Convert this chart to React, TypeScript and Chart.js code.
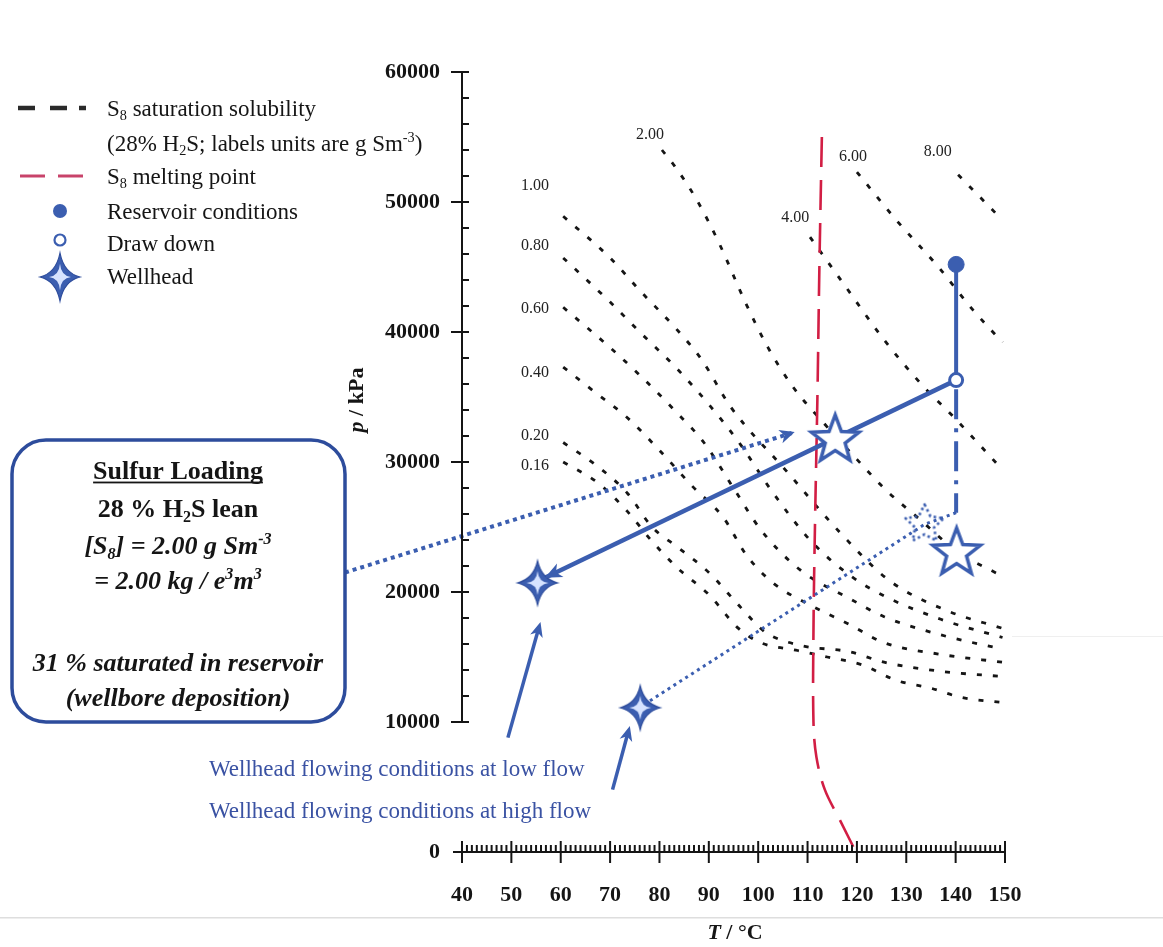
import React, { useEffect, useRef } from 'react';
import { Chart, registerables } from 'chart.js';

Chart.register(...registerables);

const W = 1163;
const H = 947;
const SERIF = '"Liberation Serif", "Times New Roman", Times, serif';
const BLUE = '#3b5eb0';
const DARK_BLUE = '#2d4c9c';
const TEXT_BLUE = '#3a52a3';
const RED = '#d21e44';
const BLACK = '#151515';

// ---- axes ----
const xMin = 40;
const xMax = 150;
const xStep = 10;
const yMin = 0;
const yMax = 60000;
const yStep = 10000;

// ---- S8 saturation solubility curves (T in °C, p in kPa) ----
const solLabels = ['0.16', '0.20', '0.40', '0.60', '0.80', '1.00', '2.00', '4.00', '6.00', '8.00'];

const sol016T = [60.5, 67.5, 73.5, 78.5, 83.5, 90, 96, 100.5, 108, 114, 121, 128, 135, 141, 149.5];
const sol016P = [30000, 28400, 26200, 23900, 21900, 19800, 17200, 16100, 15500, 15000, 14400, 13200, 12600, 11900, 11500];

const sol020T = [60.5, 67, 73.5, 78.5, 83.5, 90, 96.5, 101.5, 108.5, 118.5, 125.5, 137, 149.5];
const sol020P = [31500, 29800, 27600, 25000, 23500, 21500, 18800, 16900, 15900, 15400, 14600, 13900, 13500];

const sol040T = [60.5, 66.5, 73.5, 80, 86.5, 93, 97.5, 103, 110.5, 118.5, 125.5, 137, 149.5];
const sol040P = [37300, 35500, 33400, 30900, 28200, 25700, 22900, 20700, 19000, 17500, 16100, 15200, 14600];

const sol060T = [60.5, 70, 76.5, 83.5, 89, 95, 100.5, 108.5, 118.5, 125.5, 137, 149.5];
const sol060P = [41900, 38800, 36500, 33800, 31500, 28000, 24800, 21700, 19500, 18100, 16700, 15600];

const sol080T = [60.5, 70, 76, 83.5, 90.5, 96.5, 102.5, 110.5, 118.5, 125.5, 137, 149.5];
const sol080P = [45700, 42300, 40000, 37200, 34200, 31300, 27900, 24000, 21300, 19700, 17900, 16500];

const sol100T = [60.5, 70, 76, 83.5, 88.5, 94.5, 105.5, 117, 126.5, 138, 149.5];
const sol100P = [48900, 45700, 43200, 40200, 37900, 34200, 29400, 24400, 20900, 18600, 17200];

const sol200T = [80.5, 83, 87.5, 92, 97.5, 102, 107, 113.5, 120, 126, 133, 140, 149.5];
const sol200P = [54000, 52800, 50200, 46900, 42200, 38800, 35800, 32900, 30200, 27800, 25500, 23200, 21200];

const sol400T = [110.5, 117.5, 125.5, 133.5, 139.5, 149.5];
const sol400P = [47300, 43600, 39400, 35800, 33500, 29400];

const sol600T = [120, 128, 136.5, 143.5, 149.5];
const sol600P = [52300, 48600, 45000, 41700, 39200];

const sol800T = [140.5, 149.5];
const sol800P = [52100, 48600];

// label anchors for the solubility curves (same order as solLabels)
const solLabelT = [54.8, 54.8, 54.8, 54.8, 54.8, 54.8, 78.1, 107.5, 119.2, 136.4];
const solLabelP = [29700, 32000, 36850, 41770, 46620, 51230, 55150, 48770, 53460, 53850];

// ---- S8 melting point ----
const meltT = [112.9, 112.4, 112.0, 111.5, 111.2, 111.2, 111.8, 113.5, 116.5, 119.8];
const meltP = [55000, 45000, 35000, 25000, 17000, 10000, 7300, 4800, 2500, 0];

// ---- well conditions ----
const reservoirT = [140.1];
const reservoirP = [45200];
const drawDownT = [140.1];
const drawDownP = [36300];
const wellheadStarT = [115.6, 140.2];
const wellheadStarP = [31700, 23000];
const wellheadSparkT = [55.3, 76.1];
const wellheadSparkP = [20700, 11100];
const dottedStarT = [133.7];
const dottedStarP = [25200];

// paths
const resToDrawT = [140.1, 140.1];
const resToDrawP = [45200, 36300];
const lowFlowPathT = [140.1, 56.8];
const lowFlowPathP = [36300, 21100];
const drawDownDashT = [140.1, 140.1];
const drawDownDashP = [35600, 26100];
const highFlowPathT = [140.1, 133.7, 77.7];
const highFlowPathP = [26100, 25200, 11540];
const boxArrowT = [16.3, 107.4];
const boxArrowP = [21500, 32300];

// arrows from the text notes to the wellhead points [fromT, fromP, toT, toP]
const lowNoteArrow = [49.3, 8800, 55.9, 17700];
const highNoteArrow = [70.5, 4800, 74.0, 9700];

const zip = (T: number[], P: number[]) => T.map((t, i) => ({ x: t, y: P[i] }));

type Seg = { t: string; sub?: boolean; sup?: boolean; italic?: boolean };
type RichStyle = { weight?: string; italic?: boolean; color: string; align: 'left' | 'center'; underline?: boolean };

function drawRich(ctx: CanvasRenderingContext2D, segs: Seg[], x: number, y: number, size: number, st: RichStyle) {
  const fontOf = (s: Seg, sz: number) =>
    `${st.italic || s.italic ? 'italic ' : ''}${st.weight || 'normal'} ${sz}px ${SERIF}`;
  const sizes = segs.map((s) => (s.sub || s.sup ? size * 0.62 : size));
  const widths: number[] = [];
  let total = 0;
  segs.forEach((s, i) => {
    ctx.font = fontOf(s, sizes[i]);
    const w = ctx.measureText(s.t).width;
    widths.push(w);
    total += w;
  });
  const start = st.align === 'center' ? x - total / 2 : x;
  let cx = start;
  const base = y + size * 0.33;
  ctx.fillStyle = st.color;
  ctx.textAlign = 'left';
  ctx.textBaseline = 'alphabetic';
  segs.forEach((s, i) => {
    ctx.font = fontOf(s, sizes[i]);
    const dy = s.sub ? size * 0.2 : s.sup ? -size * 0.38 : 0;
    ctx.fillText(s.t, cx, base + dy);
    cx += widths[i];
  });
  if (st.underline) {
    ctx.fillRect(start, base + 3, total, 1.8);
  }
  return total;
}

function sparklePath(ctx: CanvasRenderingContext2D, cx: number, cy: number, rx: number, ry: number, k: number) {
  ctx.beginPath();
  ctx.moveTo(cx, cy - ry);
  ctx.quadraticCurveTo(cx + k, cy - k, cx + rx, cy);
  ctx.quadraticCurveTo(cx + k, cy + k, cx, cy + ry);
  ctx.quadraticCurveTo(cx - k, cy + k, cx - rx, cy);
  ctx.quadraticCurveTo(cx - k, cy - k, cx, cy - ry);
  ctx.closePath();
}

function drawSparkle(ctx: CanvasRenderingContext2D, cx: number, cy: number, rx: number, ry: number) {
  sparklePath(ctx, cx, cy, rx, ry, rx * 0.2);
  ctx.fillStyle = BLUE;
  ctx.fill();
  ctx.strokeStyle = DARK_BLUE;
  ctx.lineWidth = 1.2;
  ctx.stroke();
  sparklePath(ctx, cx, cy, rx * 0.55, ry * 0.55, rx * 0.05);
  ctx.fillStyle = '#d6e3ff';
  ctx.fill();
}

function starPath(ctx: CanvasRenderingContext2D, cx: number, cy: number, R: number, r: number) {
  ctx.beginPath();
  for (let i = 0; i < 10; i++) {
    const a = -Math.PI / 2 + (i * Math.PI) / 5;
    const rad = i % 2 === 0 ? R : r;
    const x = cx + rad * Math.cos(a);
    const y = cy + rad * Math.sin(a);
    if (i === 0) ctx.moveTo(x, y);
    else ctx.lineTo(x, y);
  }
  ctx.closePath();
}

function makeImage(size: number, draw: (g: CanvasRenderingContext2D, c: number) => void) {
  const c = document.createElement('canvas');
  c.width = size;
  c.height = size;
  const g = c.getContext('2d')!;
  draw(g, size / 2);
  return c;
}

function arrowHead(ctx: CanvasRenderingContext2D, fx: number, fy: number, tx: number, ty: number, len: number, half: number, color: string) {
  const a = Math.atan2(ty - fy, tx - fx);
  ctx.save();
  ctx.translate(tx, ty);
  ctx.rotate(a);
  ctx.beginPath();
  ctx.moveTo(0, 0);
  ctx.lineTo(-len, -half);
  ctx.lineTo(-len * 0.72, 0);
  ctx.lineTo(-len, half);
  ctx.closePath();
  ctx.fillStyle = color;
  ctx.fill();
  ctx.restore();
}

function line(ctx: CanvasRenderingContext2D, x1: number, y1: number, x2: number, y2: number) {
  ctx.beginPath();
  ctx.moveTo(x1, y1);
  ctx.lineTo(x2, y2);
  ctx.stroke();
}

function roundRect(ctx: CanvasRenderingContext2D, x: number, y: number, w: number, h: number, r: number) {
  ctx.beginPath();
  ctx.moveTo(x + r, y);
  ctx.arcTo(x + w, y, x + w, y + h, r);
  ctx.arcTo(x + w, y + h, x, y + h, r);
  ctx.arcTo(x, y + h, x, y, r);
  ctx.arcTo(x, y, x + w, y, r);
  ctx.closePath();
}

const decorPlugin = {
  id: 'decor',
  beforeDraw(chart: any) {
    const ctx = chart.ctx as CanvasRenderingContext2D;
    ctx.save();
    ctx.fillStyle = '#ffffff';
    ctx.fillRect(0, 0, chart.width, chart.height);
    ctx.fillStyle = '#dedede';
    ctx.fillRect(0, 917, chart.width, 1.5);
    ctx.fillStyle = '#efefef';
    ctx.fillRect(1012, 636, chart.width - 1012, 1);
    ctx.restore();
  },
  afterDatasetsDraw(chart: any) {
    const ctx = chart.ctx as CanvasRenderingContext2D;
    const xs = chart.scales.x;
    const ys = chart.scales.y;
    const P = (t: number, p: number) => [xs.getPixelForValue(t), ys.getPixelForValue(p)];
    ctx.save();
    {
      const n = lowFlowPathT.length;
      const [fx, fy] = P(lowFlowPathT[n - 2], lowFlowPathP[n - 2]);
      const [tx, ty] = P(lowFlowPathT[n - 1], lowFlowPathP[n - 1]);
      arrowHead(ctx, fx, fy, tx, ty, 17, 7.5, BLUE);
    }
    {
      const [fx, fy] = P(boxArrowT[0], boxArrowP[0]);
      const [tx, ty] = P(boxArrowT[1], boxArrowP[1]);
      arrowHead(ctx, fx, fy, tx, ty, 15, 7, BLUE);
    }
    [lowNoteArrow, highNoteArrow].forEach((a) => {
      const [fx, fy] = P(a[0], a[1]);
      const [tx, ty] = P(a[2], a[3]);
      const ang = Math.atan2(ty - fy, tx - fx);
      ctx.strokeStyle = BLUE;
      ctx.lineWidth = 3.5;
      ctx.lineCap = 'butt';
      line(ctx, fx, fy, tx - Math.cos(ang) * 10, ty - Math.sin(ang) * 10);
      arrowHead(ctx, fx, fy, tx, ty, 15, 6.5, BLUE);
    });
    ctx.restore();
  },
  afterDraw(chart: any) {
    const ctx = chart.ctx as CanvasRenderingContext2D;
    const xs = chart.scales.x;
    const ys = chart.scales.y;
    ctx.save();

    // ---- axes ----
    ctx.strokeStyle = BLACK;
    ctx.lineWidth = 2;
    ctx.lineCap = 'butt';
    const x0 = xs.getPixelForValue(xMin);
    const x1 = xs.getPixelForValue(xMax);
    const yb = ys.getPixelForValue(yMin);
    line(ctx, x0 - 9, yb, x1, yb);
    for (let t = xMin; t <= xMax; t++) {
      const x = xs.getPixelForValue(t);
      if (t % xStep === 0) line(ctx, x, yb - 11, x, yb + 11);
      else line(ctx, x, yb - 7, x, yb);
    }
    const yTop = ys.getPixelForValue(yMax);
    const y10 = ys.getPixelForValue(yStep);
    line(ctx, x0, yTop, x0, y10 + 1);
    for (let p = yStep; p <= yMax; p += 2000) {
      const y = ys.getPixelForValue(p);
      if (p % yStep === 0) line(ctx, x0 - 11, y, x0 + 7, y);
      else line(ctx, x0, y, x0 + 7, y);
    }
    line(ctx, x0, yb - 9, x0, yb + 9);

    // ---- solubility labels ----
    solLabels.forEach((lab, i) => {
      const x = xs.getPixelForValue(solLabelT[i]);
      const y = ys.getPixelForValue(solLabelP[i]);
      ctx.font = `16px ${SERIF}`;
      ctx.fillStyle = '#222';
      ctx.textAlign = 'center';
      ctx.textBaseline = 'middle';
      ctx.fillText(lab, x, y);
    });

    // ---- axis titles ----
    drawRich(ctx, [{ t: 'T', italic: true }, { t: ' / °C' }], 735, 932, 22, { weight: 'bold', color: BLACK, align: 'center' });
    ctx.save();
    ctx.translate(356, 400);
    ctx.rotate(-Math.PI / 2);
    drawRich(ctx, [{ t: 'p', italic: true }, { t: ' / kPa' }], 0, 0, 22, { weight: 'bold', color: BLACK, align: 'center' });
    ctx.restore();

    // ---- legend ----
    const LX = 107;
    const LS = 23;
    ctx.strokeStyle = '#2a2a2a';
    ctx.lineWidth = 4.5;
    line(ctx, 18, 108, 35, 108);
    line(ctx, 50, 108, 67, 108);
    line(ctx, 79, 108, 86, 108);
    drawRich(ctx, [{ t: 'S' }, { t: '8', sub: true }, { t: ' saturation solubility' }], LX, 108, LS, { color: BLACK, align: 'left' });
    drawRich(ctx, [{ t: '(28% H' }, { t: '2', sub: true }, { t: 'S; labels units are g Sm' }, { t: '-3', sup: true }, { t: ')' }], LX, 143, LS, { color: BLACK, align: 'left' });
    ctx.strokeStyle = '#c8436a';
    ctx.lineWidth = 3;
    line(ctx, 20, 176, 45, 176);
    line(ctx, 58, 176, 83, 176);
    drawRich(ctx, [{ t: 'S' }, { t: '8', sub: true }, { t: ' melting point' }], LX, 176, LS, { color: BLACK, align: 'left' });
    ctx.beginPath();
    ctx.arc(60, 211, 7, 0, Math.PI * 2);
    ctx.fillStyle = BLUE;
    ctx.fill();
    drawRich(ctx, [{ t: 'Reservoir conditions' }], LX, 211, LS, { color: BLACK, align: 'left' });
    ctx.beginPath();
    ctx.arc(60, 240, 5.5, 0, Math.PI * 2);
    ctx.fillStyle = '#fff';
    ctx.fill();
    ctx.strokeStyle = BLUE;
    ctx.lineWidth = 2.2;
    ctx.stroke();
    drawRich(ctx, [{ t: 'Draw down' }], LX, 243, LS, { color: BLACK, align: 'left' });
    drawSparkle(ctx, 60, 277, 20, 24);
    drawRich(ctx, [{ t: 'Wellhead' }], LX, 276, LS, { color: BLACK, align: 'left' });

    // ---- sulfur loading box ----
    roundRect(ctx, 12, 440, 333, 282, 34);
    ctx.strokeStyle = DARK_BLUE;
    ctx.lineWidth = 3.5;
    ctx.stroke();
    const BX = 178;
    drawRich(ctx, [{ t: 'Sulfur Loading' }], BX, 470, 26, { weight: 'bold', color: BLACK, align: 'center', underline: true });
    drawRich(ctx, [{ t: '28 % H' }, { t: '2', sub: true }, { t: 'S lean' }], BX, 508, 26, { weight: 'bold', color: BLACK, align: 'center' });
    drawRich(ctx, [{ t: '[S' }, { t: '8', sub: true }, { t: '] = 2.00 g Sm' }, { t: '-3', sup: true }], BX, 545, 26, { weight: 'bold', italic: true, color: BLACK, align: 'center' });
    drawRich(ctx, [{ t: '= 2.00 kg / e' }, { t: '3', sup: true }, { t: 'm' }, { t: '3', sup: true }], BX, 580, 26, { weight: 'bold', italic: true, color: BLACK, align: 'center' });
    drawRich(ctx, [{ t: '31 % saturated in reservoir' }], BX, 662, 26, { weight: 'bold', italic: true, color: BLACK, align: 'center' });
    drawRich(ctx, [{ t: '(wellbore deposition)' }], BX, 697, 26, { weight: 'bold', italic: true, color: BLACK, align: 'center' });

    // ---- notes ----
    drawRich(ctx, [{ t: 'Wellhead flowing conditions at low flow' }], 209, 768, 23, { color: TEXT_BLUE, align: 'left' });
    drawRich(ctx, [{ t: 'Wellhead flowing conditions at high flow' }], 209, 810, 23, { color: TEXT_BLUE, align: 'left' });

    ctx.restore();
  },
};

export default function App() {
  const ref = useRef<HTMLCanvasElement>(null);

  useEffect(() => {
    const canvas = ref.current;
    if (!canvas) return;

    const openStar = makeImage(72, (g, c) => {
      starPath(g, c, c, 25, 10.5);
      g.fillStyle = '#ffffff';
      g.fill();
      g.strokeStyle = BLUE;
      g.lineWidth = 3.5;
      g.lineJoin = 'miter';
      g.stroke();
    });
    const dottedStar = makeImage(60, (g, c) => {
      starPath(g, c, c, 20, 10);
      g.strokeStyle = BLUE;
      g.lineWidth = 2.6;
      g.setLineDash([2.5, 3]);
      g.lineJoin = 'round';
      g.stroke();
    });
    const sparkle = makeImage(56, (g, c) => {
      drawSparkle(g, c, c, 20, 22);
    });

    const solSets = [
      [sol016T, sol016P],
      [sol020T, sol020P],
      [sol040T, sol040P],
      [sol060T, sol060P],
      [sol080T, sol080P],
      [sol100T, sol100P],
      [sol200T, sol200P],
      [sol400T, sol400P],
      [sol600T, sol600P],
      [sol800T, sol800P],
    ];

    const lineBase = { showLine: true, pointRadius: 0, fill: false, clip: false as any };

    const datasets: any[] = [
      { label: 'Wellhead sparkle', data: zip(wellheadSparkT, wellheadSparkP), pointStyle: sparkle, pointRadius: 20, showLine: false, order: 0 },
      { label: 'Wellhead star', data: zip(wellheadStarT, wellheadStarP), pointStyle: openStar, pointRadius: 25, showLine: false, order: 0 },
      { label: 'Dotted star', data: zip(dottedStarT, dottedStarP), pointStyle: dottedStar, pointRadius: 20, showLine: false, order: 0 },
      { label: 'Reservoir conditions', data: zip(reservoirT, reservoirP), pointStyle: 'circle', pointRadius: 8, backgroundColor: BLUE, borderColor: BLUE, borderWidth: 1, showLine: false, order: 0 },
      { label: 'Draw down', data: zip(drawDownT, drawDownP), pointStyle: 'circle', pointRadius: 6.5, backgroundColor: '#ffffff', borderColor: BLUE, borderWidth: 3, showLine: false, order: 0 },
      { ...lineBase, label: 'res-draw', data: zip(resToDrawT, resToDrawP), borderColor: BLUE, borderWidth: 4, order: 1 },
      { ...lineBase, label: 'low flow path', data: zip(lowFlowPathT, lowFlowPathP), borderColor: BLUE, borderWidth: 4.5, order: 1 },
      { ...lineBase, label: 'draw dash', data: zip(drawDownDashT, drawDownDashP), borderColor: BLUE, borderWidth: 4, borderDash: [30, 9, 4, 9], order: 1 },
      { ...lineBase, label: 'high flow path', data: zip(highFlowPathT, highFlowPathP), borderColor: BLUE, borderWidth: 3, borderDash: [3, 4], order: 1 },
      { ...lineBase, label: 'box arrow', data: zip(boxArrowT, boxArrowP), borderColor: BLUE, borderWidth: 4, borderDash: [4, 4], order: 1 },
      { ...lineBase, label: 'S8 melting point', data: zip(meltT, meltP), borderColor: RED, borderWidth: 2.6, borderDash: [30, 13], tension: 0.35, order: 2 },
      ...solSets.map((s, i) => ({
        ...lineBase,
        label: solLabels[i],
        data: zip(s[0], s[1]),
        borderColor: BLACK,
        borderWidth: 2.8,
        borderDash: [5, 11],
        cubicInterpolationMode: 'monotone',
        order: 3,
      })),
    ];

    const chart = new Chart(canvas, {
      type: 'scatter',
      data: { datasets },
      options: {
        responsive: false,
        animation: false,
        events: [],
        layout: { padding: { left: 0, top: 72, right: W - 1005, bottom: 0 } },
        plugins: { legend: { display: false }, tooltip: { enabled: false } },
        scales: {
          x: {
            type: 'linear',
            min: xMin,
            max: xMax,
            grid: { display: false, drawTicks: false },
            border: { display: false },
            ticks: {
              stepSize: xStep,
              autoSkip: false,
              maxRotation: 0,
              padding: 30,
              color: BLACK,
              font: { family: SERIF, size: 22, weight: 'bold' },
              callback: (v: any) => String(v),
            },
            afterFit: (s: any) => {
              s.height = H - 852;
            },
          },
          y: {
            type: 'linear',
            min: yMin,
            max: yMax,
            grid: { display: false, drawTicks: false },
            border: { display: false },
            ticks: {
              stepSize: yStep,
              padding: 22,
              color: BLACK,
              font: { family: SERIF, size: 22, weight: 'bold' },
              callback: (v: any) => String(v),
            },
            afterFit: (s: any) => {
              s.width = 462;
            },
          },
        },
      } as any,
      plugins: [decorPlugin],
    });

    return () => chart.destroy();
  }, []);

  return (
    <div style={{ position: 'fixed', left: 0, top: 0, width: W, height: H, background: '#fff' }}>
      <canvas ref={ref} width={W} height={H} style={{ width: W, height: H, display: 'block' }} />
    </div>
  );
}
